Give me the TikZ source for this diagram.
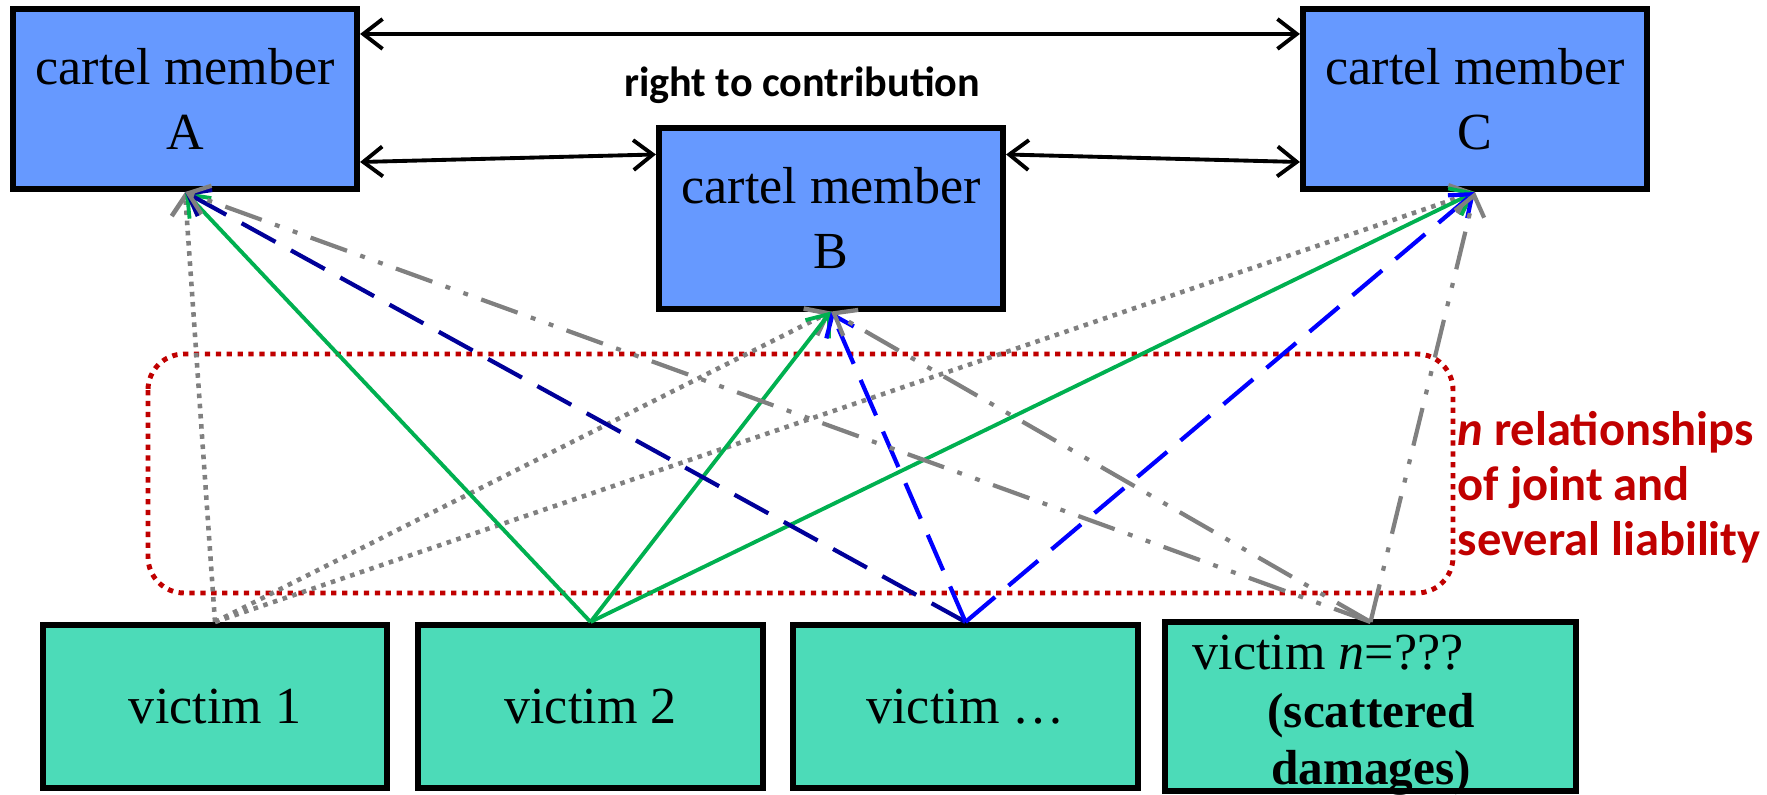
\documentclass[tikz,border=0pt]{standalone}
\usepackage{fontspec}
\setmainfont{Liberation Serif}
\newfontfamily\calibri{Carlito}
\usetikzlibrary{arrows.meta}

\definecolor{memberblue}{HTML}{6699FF}
\definecolor{victimgreen}{HTML}{4CDBB8}
\definecolor{linegreen}{HTML}{00B050}
\definecolor{navy}{HTML}{000099}
\definecolor{liabred}{HTML}{C00000}

\newcommand{\boxfont}{\fontsize{14.8}{18.5}\selectfont}
\newcommand{\labelfont}{\calibri\bfseries\fontsize{13.8}{15.6}\selectfont}

\tikzset{
  box/.style={draw=black, line width=1.7pt, minimum width=3.44cm, inner sep=0pt,
              align=center, font=\boxfont},
  member/.style={box, fill=memberblue, minimum height=1.80cm},
  victim/.style={box, fill=victimgreen, minimum height=1.63cm},
  vtext/.style={inner sep=0pt, font=\boxfont},
  tip/.style={-{Straight Barb[length=5.5pt,width=8.5pt]}},
  dotline/.style={tip, gray, line width=1.3pt, dash pattern=on 1.3pt off 1.6pt},
  greenline/.style={tip, linegreen, line width=1.1pt},
  blueline/.style={tip, line width=1.2pt, dash pattern=on 11pt off 5pt},
  dashdotline/.style={tip, gray, line width=1.2pt,
              dash pattern=on 11pt off 4pt on 1.4pt off 4pt on 1.4pt off 4pt},
  contrib/.style={{Straight Barb[length=5.5pt,width=8.5pt]}-{Straight Barb[length=5.5pt,width=8.5pt]},
              line width=1.1pt},
}

\begin{document}
\begin{tikzpicture}[x=0.01cm, y=-0.01cm]
  \useasboundingbox (0,0) rectangle (1767,795);

  % cartel members
  \node[member] (A) at (185,99)    {cartel member\\A};
  \node[member] (B) at (831,218.5) {cartel member\\B};
  \node[member] (C) at (1475,99)   {cartel member\\C};

  % victims
  \node[victim] (v1) at (215,706.5)   {victim 1};
  \node[victim] (v2) at (590.5,706.5) {victim 2};
  \node[victim] (v3) at (965.5,706.5) {victim …};
  \node[victim, draw=none, minimum width=4.05cm] (vn) at (1370.5,706.5) {};
  \node[vtext, anchor=base west] (vnname) at (1192,670) {victim \textit{n}=???};
  \node[vtext, anchor=base, font=\fontsize{14}{18}\selectfont\bfseries] (vnnote) at (1371,728) {(scattered};
  \node[vtext, anchor=base, font=\fontsize{14}{18}\selectfont\bfseries] (vndmg) at (1371,785) {damages)};
  \draw[line width=1.7pt] (vn.south west) rectangle (vn.north east); % border over the text

  % right to contribution
  \draw[contrib] ([yshift=-0.28cm]A.north east) -- ([yshift=-0.28cm]C.north west);
  \draw[contrib] ([yshift=0.30cm]A.south east) -- ([yshift=-0.29cm]B.north west);
  \draw[contrib] ([yshift=-0.29cm]B.north east) -- ([yshift=0.30cm]C.south west);
  \node[font=\calibri\bfseries\fontsize{12}{14}\selectfont, anchor=base] (contribtext)
    at (802,97) {right to contribution};

  % joint and several liability
  \draw[liabred, line width=1.4pt, dash pattern=on 1.5pt off 1.6pt, rounded corners=0.36cm]
    (148,354) rectangle (1453,593);
  \node[font=\labelfont, text=liabred, align=left, anchor=west, inner sep=0pt] (nrel)
    at (1457,487) {\textit{n} relationships\\of joint and\\several liability};

  \foreach \m in {A,B,C}
    \draw[dotline] (v1.north) -- (\m.south);
  \foreach \m in {A,B,C}
    \draw[greenline] (v2.north) -- (\m.south);
  \draw[blueline, navy] (v3.north) -- (A.south);
  \draw[blueline, blue] (v3.north) -- (B.south);
  \draw[blueline, blue] (v3.north) -- (C.south);
  \foreach \m in {A,B,C}
    \draw[dashdotline] (vn.north) -- (\m.south);
\end{tikzpicture}
\end{document}
